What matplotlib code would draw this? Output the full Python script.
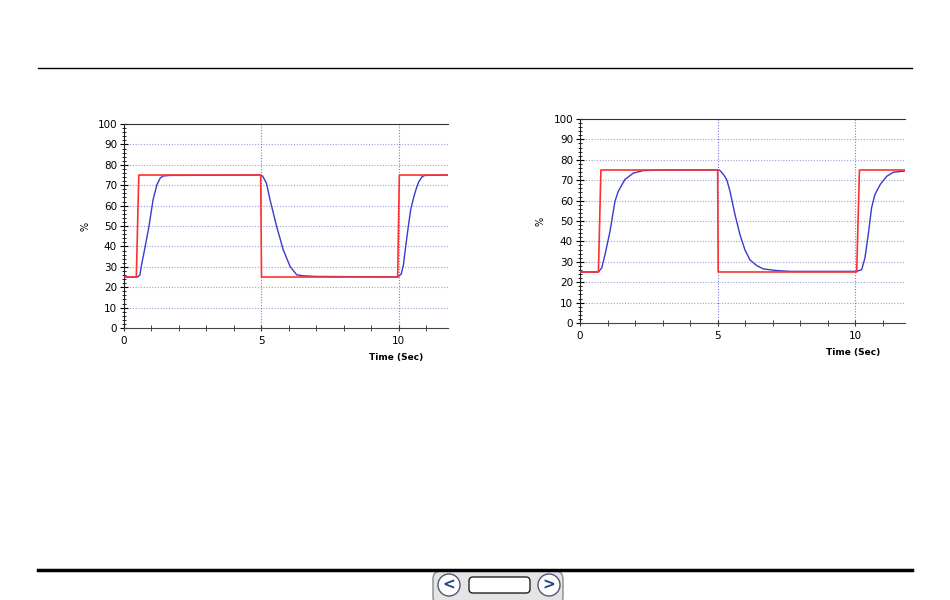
import matplotlib
matplotlib.use('Agg')
import matplotlib.pyplot as plt
from matplotlib.patches import FancyBboxPatch, Circle
from matplotlib.ticker import MultipleLocator

# setpoint (red) and process value (blue), left chart
t_sp_left = [0, 0.45, 0.54, 4.98, 5.01, 9.97, 10.03, 11.8]
sp_left = [25, 25, 75, 75, 25, 25, 75, 75]
t_pv_left = [0, 0.5, 0.58, 0.63, 0.75, 0.91, 1.06, 1.2, 1.32, 1.42, 1.67, 4.95,
             5.05, 5.19, 5.32, 5.56, 5.8, 6.05, 6.29, 6.53, 6.96, 9.98,
             10.1, 10.18, 10.26, 10.35, 10.44, 10.56, 10.65, 10.74, 10.85, 10.95, 11.8]
pv_left = [25, 25, 26, 30.2, 38.4, 49.8, 62.9, 70.3, 73.5, 74.5, 74.8, 75,
           74.5, 71, 62.9, 49.8, 38.4, 30.2, 26.1, 25.6, 25.3, 25,
           26.5, 31, 39.9, 49, 57.8, 64.4, 68.5, 71.7, 74, 74.8, 75]

# right chart
t_sp_right = [0, 0.67, 0.76, 5.0, 5.02, 10.05, 10.15, 11.8]
sp_right = [25, 25, 75, 75, 25, 25, 75, 75]
t_pv_right = [0, 0.67, 0.79, 0.91, 1.09, 1.27, 1.39, 1.63, 1.94, 2.3, 3.03, 5.0,
              5.08, 5.2, 5.33, 5.45, 5.63, 5.81, 5.99, 6.17, 6.42, 6.66, 7.14, 7.63,
              10.05, 10.23, 10.35, 10.47, 10.59, 10.71, 10.9, 11.14, 11.38, 11.8]
pv_right = [25, 25, 27, 33.5, 44.9, 59.6, 64.5, 70.3, 73.5, 74.7, 75, 75,
            74.8, 73, 70.3, 64.5, 53.1, 43.3, 35.9, 31, 28.1, 26.5, 25.7, 25.3,
            25.3, 26.1, 31.9, 43.3, 56.4, 62.9, 67.8, 71.9, 73.9, 74.5]

y_ticks = list(range(0, 101, 10))
x_ticks = [0, 5, 10]
x_max = 11.8

fig = plt.figure(figsize=(9.5, 6), dpi=100)

# slide decoration in pixel coords
bg = fig.add_axes([0, 0, 1, 1])
bg.set_xlim(0, 950)
bg.set_ylim(600, 0)
bg.axis('off')
bg.plot([38, 912], [68, 68], color='black', lw=1)
bg.plot([38, 912], [570, 570], color='black', lw=2.5)
bg.add_patch(FancyBboxPatch((433, 571), 130, 34, boxstyle='round,pad=0,rounding_size=8',
                            fc='#e4e4e4', ec='#8a8a8a', lw=1))
bg.add_patch(FancyBboxPatch((469, 577), 61, 16, boxstyle='round,pad=0,rounding_size=4',
                            fc='white', ec='#222222', lw=1))
for cx, arrow in [(449, '<'), (549, '>')]:
    bg.add_patch(Circle((cx, 585), 11, fc='white', ec='#555577', lw=1))
    bg.text(cx, 585, arrow, ha='center', va='center', fontsize=11,
            fontweight='bold', color='#1f3f7f')


def draw_chart(rect, t_sp, sp, t_pv, pv):
    ax = fig.add_axes(rect)
    ax.set_xlim(0, x_max)
    ax.set_ylim(0, 100)
    for y in y_ticks[1:-1]:
        ax.axhline(y, color='#a0a0d4', lw=0.8, ls=(0, (1, 1.5)), zorder=1)
    for x in x_ticks[1:]:
        ax.axvline(x, color='#7777dd', lw=0.8, ls=(0, (1, 1.5)), zorder=1)
    ax.plot(t_pv, pv, color='#3a3acc', lw=1, zorder=3)
    ax.plot(t_sp, sp, color='#ff3030', lw=1.2, zorder=4)
    ax.spines['right'].set_visible(False)
    ax.spines['top'].set_color('#333333')
    ax.spines['left'].set_color('#222222')
    ax.spines['bottom'].set_color('#444444')
    ax.set_yticks(y_ticks)
    ax.set_xticks(x_ticks)
    ax.yaxis.set_minor_locator(MultipleLocator(2))
    ax.xaxis.set_minor_locator(MultipleLocator(1))
    ax.tick_params(axis='y', which='major', direction='inout', length=6, width=0.8,
                   labelsize=7.5, pad=2)
    ax.tick_params(axis='y', which='minor', direction='inout', length=3, width=0.6)
    ax.tick_params(axis='x', which='major', direction='inout', length=5, width=0.8,
                   labelsize=7.5, pad=3, color='#333333')
    ax.tick_params(axis='x', which='minor', direction='inout', length=4, width=0.7,
                   color='#444444')
    ax.text(-0.12, 0.5, '%', transform=ax.transAxes, rotation=90,
            ha='center', va='center', fontsize=7)
    ax.text(0.84, -0.145, 'Time (Sec)', transform=ax.transAxes,
            ha='center', va='center', fontsize=6.5, fontweight='bold')
    return ax


draw_chart([0.1305, 0.4533, 0.341, 0.34], t_sp_left, sp_left, t_pv_left, pv_left)
draw_chart([0.6105, 0.4617, 0.342, 0.34], t_sp_right, sp_right, t_pv_right, pv_right)

fig.savefig('out.png', dpi=100)
